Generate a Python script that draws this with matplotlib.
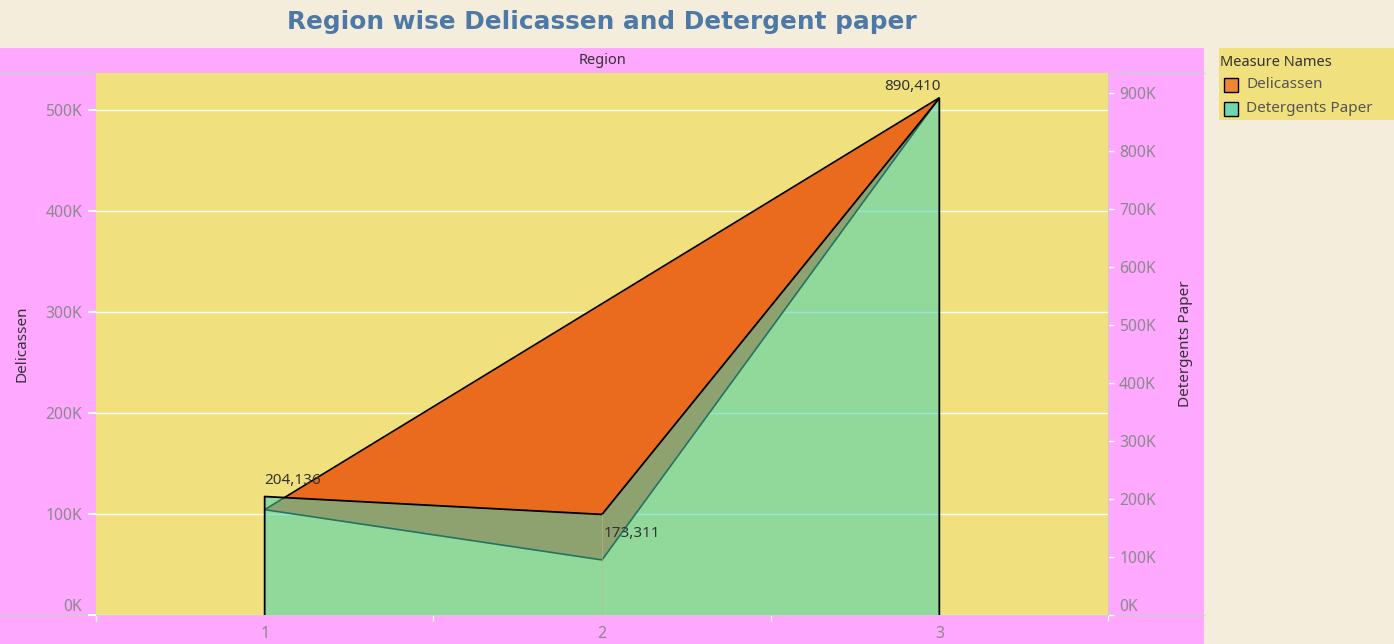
import matplotlib
matplotlib.use("Agg")
import matplotlib.pyplot as plt
from matplotlib.patches import Rectangle
import numpy as np

# ---------------------------------------------------------------------------
# Data
# ---------------------------------------------------------------------------
regions = [1, 2, 3]
delicassen = [104327, 54506, 512110]
detergents_paper = [204136, 173311, 890410]
left_ticks = [0, 100000, 200000, 300000, 400000, 500000]
right_ticks = [0, 100000, 200000, 300000, 400000, 500000, 600000, 700000, 800000, 900000]

W, H = 1394, 644
BEIGE = "#F4EDDB"
PINK = "#FFA8FF"
YELLOW = "#F0E17E"
ORANGE = "#EA6B1E"
GREEN = "#43D1B4"
GREY_TXT = "#8A8A8A"
DARK = "#333333"

plt.rcParams["font.family"] = ["Noto Sans", "DejaVu Sans"]

fig = plt.figure(figsize=(W / 100, H / 100), dpi=100, facecolor=BEIGE)


def fx(px):
    return px / W


def fy(py):
    return 1 - py / H


# pink panel + legend box
fig.patches.append(Rectangle((0, 0), fx(1204), fy(48), transform=fig.transFigure,
                             facecolor=PINK, edgecolor="none", zorder=-5))
fig.patches.append(Rectangle((fx(1219), fy(120)), fx(1394 - 1219), (120 - 48) / H,
                             transform=fig.transFigure, facecolor=YELLOW,
                             edgecolor="none", zorder=-5))

# header separator lines
fig.lines.append(plt.Line2D([0, fx(1204)], [fy(73), fy(73)], transform=fig.transFigure,
                            color="#CCCCCC", lw=1, zorder=-4))
fig.lines.append(plt.Line2D([0, fx(96)], [fy(615), fy(615)], transform=fig.transFigure,
                            color="#CCCCCC", lw=1, zorder=-4))
fig.lines.append(plt.Line2D([fx(1108), fx(1204)], [fy(615), fy(615)], transform=fig.transFigure,
                            color="#CCCCCC", lw=1, zorder=-4))

fig.text(fx(602), fy(22), "Region wise Delicassen and Detergent paper", ha="center",
         va="center", fontsize=17.8, fontweight="bold", color="#4E79A7", family="DejaVu Sans")
fig.text(fx(602), fy(61), "Region", ha="center", va="center", fontsize=10.5, color=DARK)

# ---------------------------------------------------------------------------
# Axes
# ---------------------------------------------------------------------------
ax = fig.add_axes([fx(96), fy(615), (1108 - 96) / W, (615 - 73) / H])
ax.set_facecolor(YELLOW)
ax2 = ax.twinx()

ax.set_xlim(0.5, 3.5)
ax.set_ylim(0, 536600)
ax2.set_ylim(0, 934000)

# Delicassen drawn as closed polygon of its points
ax.fill(regions, delicassen, facecolor=ORANGE, edgecolor="black", lw=1.2, zorder=3)

# Detergents Paper area on right axis
ax2.fill_between(regions, 0, detergents_paper, facecolor=GREEN, alpha=0.55,
                 edgecolor="none", zorder=3)
ax2.plot([regions[0]] + regions + [regions[-1]], [0] + detergents_paper + [0],
         color="black", lw=1.3, zorder=4)
ax2.plot([2, 2], [0, detergents_paper[1]], color="#C8B48A", lw=0.6, alpha=0.6, zorder=4)

# grid + ticks
ax.set_axisbelow(True)
ax.set_yticks(left_ticks)
ax.set_yticklabels([f"{v // 1000}K" for v in left_ticks])
ax.grid(axis="y", color="white", lw=1)
ax.set_xticks([0.5, 1.5, 2.5, 3.5])
ax.set_xticklabels([])
ax.set_xticks(regions, minor=True)
ax.set_xticklabels([str(r) for r in regions], minor=True)
ax.tick_params(axis="x", which="major", length=4, color="white", width=1)
ax.tick_params(axis="x", which="minor", length=0, pad=8, labelsize=11.5, labelcolor=GREY_TXT)
ax.tick_params(axis="y", length=6, color="white", width=1.5, labelsize=11.3,
               labelcolor=GREY_TXT, pad=4)

ax2.set_yticks(right_ticks)
ax2.set_yticklabels([f"{v // 1000}K" for v in right_ticks])
ax2.tick_params(axis="y", length=4, color="white", width=1, labelsize=11.3,
                labelcolor=GREY_TXT, pad=4)

for a in (ax, ax2):
    for s in a.spines.values():
        s.set_visible(False)
ax2.spines["right"].set_visible(True)
ax2.spines["right"].set_color("#CCCCCC")
ax2.spines["bottom"].set_visible(True)
ax2.spines["bottom"].set_color("#CCCCCC")

# bottom "0K" labels sit above the baseline
for lbl in (ax.get_yticklabels()[0], ax2.get_yticklabels()[0]):
    lbl.set_va("bottom")

ax.set_ylabel("Delicassen", fontsize=11, color=DARK)
ax.yaxis.set_label_coords(-0.066, 0.5)
ax2.set_ylabel("Detergents Paper", fontsize=11, color=DARK)
ax2.yaxis.set_label_coords(1.069, 0.5)

# data labels
ax2.annotate(f"{detergents_paper[0]:,}", (regions[0], detergents_paper[0]),
             xytext=(0, 6), textcoords="offset points", ha="left", va="bottom",
             fontsize=11, color=DARK, zorder=6)
ax2.annotate(f"{detergents_paper[1]:,}", (regions[1], detergents_paper[1]),
             xytext=(1, -8), textcoords="offset points", ha="left", va="top",
             fontsize=11, color=DARK, zorder=6)
ax2.annotate(f"{detergents_paper[2]:,}", (regions[2], detergents_paper[2]),
             xytext=(1, 3), textcoords="offset points", ha="right", va="bottom",
             fontsize=11, color=DARK, zorder=6)

# ---------------------------------------------------------------------------
# Legend
# ---------------------------------------------------------------------------
fig.text(fx(1220), fy(62), "Measure Names", ha="left", va="center", fontsize=10.5,
         color=DARK, fontweight="medium")
legend_items = [("Delicassen", "#EE8733", 85), ("Detergents Paper", "#72D6B0", 109)]
for name, col, yc in legend_items:
    fig.patches.append(Rectangle((fx(1224), fy(yc + 7)), 14 / W, 14 / H,
                                 transform=fig.transFigure, facecolor=col,
                                 edgecolor="black", lw=1))
    fig.text(fx(1246), fy(yc), name, ha="left", va="center", fontsize=11, color="#555555")

fig.savefig("out.png", dpi=100, facecolor=BEIGE)
